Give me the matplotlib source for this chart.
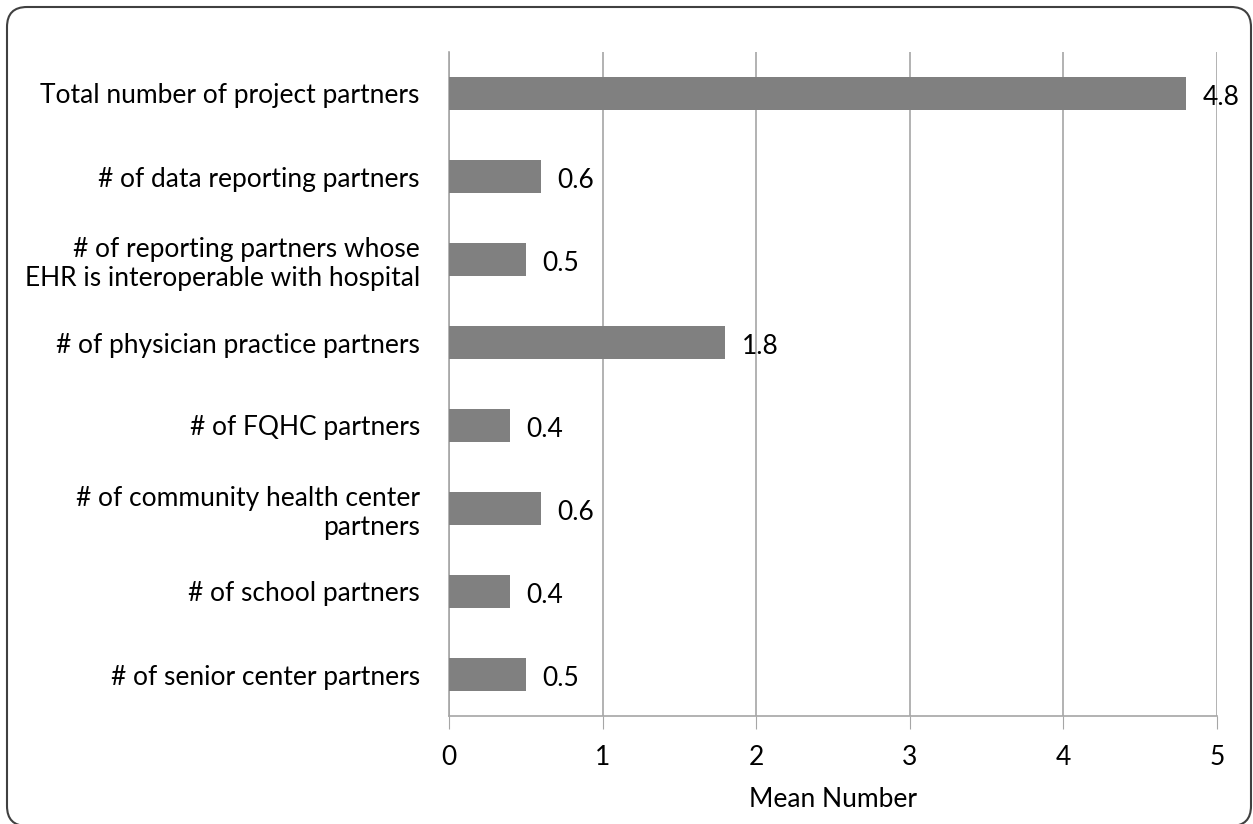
import matplotlib
matplotlib.use("Agg")
from matplotlib import pyplot as plt
from matplotlib.patches import FancyBboxPatch

categories = [
    'Total number of project partners',
    '# of data reporting partners',
    '# of reporting partners whose\nEHR is interoperable with hospital',
    '# of physician practice partners',
    '# of FQHC partners',
    '# of community health center\npartners',
    '# of school partners',
    '# of senior center partners',
]
values = [4.8, 0.6, 0.5, 1.8, 0.4, 0.6, 0.4, 0.5]
value_labels = ['4.8', '0.6', '0.5', '1.8', '0.4', '0.6', '0.4', '0.5']
xticks = [0, 1, 2, 3, 4, 5]

plt.rcParams['font.family'] = ['Lato', 'DejaVu Sans']
GRID = '#a6a6a6'

fig = plt.figure(figsize=(12.53, 8.24), dpi=100)
ax = fig.add_axes([449 / 1253, 1 - 716 / 824, (1217 - 449) / 1253, (716 - 52) / 824])

# rounded frame around the whole chart (inches, so the corners stay round)
frame = FancyBboxPatch((0.07, -0.02), 12.44, 8.19,
                       boxstyle='round,pad=0,rounding_size=0.2',
                       transform=fig.dpi_scale_trans, facecolor='none',
                       edgecolor='#404040', linewidth=1.5, clip_on=False)
fig.patches.append(frame)

pos = list(range(len(categories)))
ax.barh(pos, values, height=0.4, color='#808080', zorder=3)
for p, v, lab in zip(pos, values, value_labels):
    ax.annotate(lab, (v, p), xytext=(11.5, -1), textcoords='offset points',
                va='center_baseline', ha='left', fontsize=19, color='black', zorder=4)

ax.set_ylim(len(categories) - 0.5, -0.5)
ax.set_xlim(0, 5)
ax.set_yticks(pos)
ax.set_yticklabels(categories, fontsize=19, ha='right', multialignment='right')
ax.set_xticks(xticks)
ax.set_xticklabels([str(t) for t in xticks], fontsize=19)
ax.tick_params(axis='y', length=0, pad=21)
ax.tick_params(axis='x', length=9, color=GRID, pad=12)
ax.xaxis.grid(True, color=GRID, linewidth=1.2, zorder=0)
for s in ['top', 'right']:
    ax.spines[s].set_visible(False)
for s in ['left', 'bottom']:
    ax.spines[s].set_color(GRID)
    ax.spines[s].set_linewidth(1.2)
ax.set_xlabel('Mean Number', fontsize=19, labelpad=12)

fig.savefig('out.png', dpi=100)
